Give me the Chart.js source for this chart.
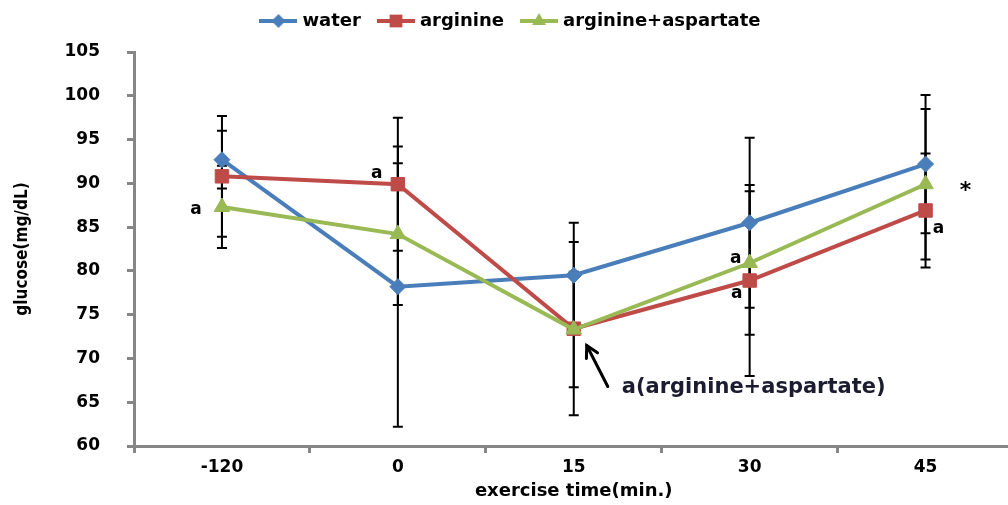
<!DOCTYPE html>
<html>
<head>
<meta charset="utf-8">
<script src="https://cdn.jsdelivr.net/npm/chart.js@4"></script>
<style>
  html, body { margin: 0; padding: 0; background: #fff; overflow: hidden; }
  canvas { display: block; }
</style>
</head>
<body>
<canvas id="chart" width="1024" height="505"></canvas>
<script>
const categories = ['-120', '0', '15', '30', '45']

const waterValues = [92.7, 78.2, 79.5, 85.5, 92.2]
const waterErrors = [3.3, 16.0, 6.0, 9.7, 7.9]
const arginineValues = [90.8, 89.9, 73.4, 78.9, 86.9]
const arginineErrors = [6.9, 7.6, 9.9, 10.9, 6.5]
const argAspValues = [87.3, 84.2, 73.3, 80.9, 89.9]
const argAspErrors = [4.7, 8.1, 6.6, 8.2, 8.6]

const yTicks = [60, 65, 70, 75, 80, 85, 90, 95, 100, 105]

// significance marks: series index, category index, text
const noteSeries = [2, 1, 2, 1, 1, 2]
const noteIndex = [0, 1, 3, 3, 4, 4]
const noteText = ['a', 'a', 'a', 'a', 'a', '*']
const arrowText = 'a(arginine+aspartate)'

const errors = [waterErrors, arginineErrors, argAspErrors]

const BLUE = '#4a7ebb'
const RED = '#be4b48'
const GREEN = '#98b954'
const AXIS = '#868686'

Chart.defaults.font.family = 'DejaVu Sans'
Chart.defaults.color = '#000'

function markerPath(ctx, style, x, y, r) {
  ctx.beginPath()
  if (style === 'rectRot') {
    ctx.moveTo(x - r, y); ctx.lineTo(x, y - r); ctx.lineTo(x + r, y); ctx.lineTo(x, y + r)
  } else if (style === 'rect') {
    const s = r * Math.SQRT1_2
    ctx.rect(x - s, y - s, 2 * s, 2 * s)
  } else {
    const h = r * 1.5
    ctx.moveTo(x, y - r); ctx.lineTo(x + h / Math.sqrt(3), y + r / 2); ctx.lineTo(x - h / Math.sqrt(3), y + r / 2)
  }
  ctx.closePath()
}

function legendIcon(color, style, r) {
  const c = document.createElement('canvas')
  c.width = 38
  c.height = 20
  const ctx = c.getContext('2d')
  ctx.strokeStyle = color
  ctx.lineWidth = 4
  ctx.beginPath(); ctx.moveTo(0, 10); ctx.lineTo(38, 10); ctx.stroke()
  ctx.fillStyle = color
  markerPath(ctx, style, 19, 10, r)
  ctx.fill()
  return c
}

const legendIcons = [
  legendIcon(BLUE, 'rectRot', 7),
  legendIcon(RED, 'rect', 9),
  legendIcon(GREEN, 'triangle', 8),
]

const errorBars = {
  id: 'errorBars',
  beforeDatasetsDraw(chart) {
    const { ctx, scales: { y } } = chart
    ctx.save()
    ctx.strokeStyle = '#000'
    ctx.lineWidth = 2
    chart.data.datasets.forEach((ds, i) => {
      chart.getDatasetMeta(i).data.forEach((pt, j) => {
        const e = errors[i][j]
        const top = y.getPixelForValue(ds.data[j] + e)
        const bot = y.getPixelForValue(ds.data[j] - e)
        ctx.beginPath()
        ctx.moveTo(pt.x, top); ctx.lineTo(pt.x, bot)
        ctx.moveTo(pt.x - 5, top); ctx.lineTo(pt.x + 5, top)
        ctx.moveTo(pt.x - 5, bot); ctx.lineTo(pt.x + 5, bot)
        ctx.stroke()
      })
    })
    ctx.restore()
  }
}

// lift the legend a little closer to the top edge
const legendShift = {
  id: 'legendShift',
  afterLayout(chart) {
    chart.legend.top -= 12
    chart.legend.bottom -= 12
  }
}

const notes = {
  id: 'notes',
  afterDatasetsDraw(chart) {
    const { ctx } = chart
    const offsets = [[-26, 3], [-21, -11], [-14, -4], [-13, 13], [13, 18], [40, 7]]
    ctx.save()
    ctx.textAlign = 'center'
    ctx.textBaseline = 'middle'
    ctx.fillStyle = '#000'
    noteText.forEach((t, k) => {
      const pt = chart.getDatasetMeta(noteSeries[k]).data[noteIndex[k]]
      ctx.font = t === '*' ? 'bold 22px DejaVu Sans' : 'bold 17px DejaVu Sans'
      ctx.fillText(t, pt.x + offsets[k][0], pt.y + offsets[k][1])
    })

    // arrow pointing at the 15 min arginine+aspartate point
    const p = chart.getDatasetMeta(2).data[2]
    const hx = p.x + 13, hy = p.y + 16
    const tx = p.x + 34, ty = p.y + 57
    const ang = Math.atan2(hy - ty, hx - tx)
    ctx.strokeStyle = '#000'
    ctx.lineWidth = 3
    ctx.lineCap = 'round'
    ctx.beginPath(); ctx.moveTo(tx, ty); ctx.lineTo(hx, hy); ctx.stroke()
    ctx.beginPath()
    ctx.moveTo(hx - 13 * Math.cos(ang - 0.5), hy - 13 * Math.sin(ang - 0.5))
    ctx.lineTo(hx, hy)
    ctx.lineTo(hx - 13 * Math.cos(ang + 0.5), hy - 13 * Math.sin(ang + 0.5))
    ctx.stroke()

    ctx.textAlign = 'left'
    ctx.fillStyle = '#1c1c30'
    ctx.font = 'bold 21px DejaVu Sans'
    ctx.fillText(arrowText, p.x + 48, p.y + 58)
    ctx.restore()
  }
}

function lineDataset(label, data, color, style, radius, order) {
  return {
    label,
    data,
    borderColor: color,
    backgroundColor: color,
    borderWidth: 4,
    pointStyle: style,
    pointRadius: radius,
    pointBorderWidth: 1,
    pointBackgroundColor: color,
    tension: 0,
    order,
  }
}

new Chart(document.getElementById('chart'), {
  type: 'line',
  data: {
    labels: categories,
    datasets: [
      lineDataset('water', waterValues, BLUE, 'rectRot', 8, 2),
      lineDataset('arginine', arginineValues, RED, 'rect', 9.5, 1),
      lineDataset('arginine+aspartate', argAspValues, GREEN, 'triangle', 9, 0),
    ]
  },
  options: {
    responsive: false,
    animation: false,
    devicePixelRatio: 1,
    layout: { padding: { top: 4, right: 0, left: 0, bottom: 0 } },
    plugins: {
      tooltip: { enabled: false },
      legend: {
        position: 'top',
        align: 'center',
        labels: {
          usePointStyle: true,
          pointStyleWidth: 30,
          boxHeight: 18,
          padding: 20,
          color: '#000',
          font: { size: 18, weight: 'bold' },
          sort: (a, b) => a.datasetIndex - b.datasetIndex,
          generateLabels(chart) {
            const items = Chart.defaults.plugins.legend.labels.generateLabels(chart)
            items.forEach(item => { item.pointStyle = legendIcons[item.datasetIndex] })
            return items
          }
        }
      }
    },
    scales: {
      x: {
        offset: true,
        grid: { offset: true, drawOnChartArea: false, drawTicks: true, tickLength: 7, tickColor: AXIS, tickWidth: 3 },
        border: { color: AXIS, width: 3 },
        ticks: { padding: 4, font: { size: 17, weight: 'bold' }, color: '#000' },
        title: {
          display: true,
          text: 'exercise time(min.)',
          font: { size: 18, weight: 'bold' },
          padding: { top: 0, bottom: 3 },
          color: '#000'
        },
        afterFit(scale) { scale.height = 59 }
      },
      y: {
        min: 60,
        max: 105,
        afterBuildTicks(scale) { scale.ticks = yTicks.map(v => ({ value: v })) },
        grid: { drawOnChartArea: false, drawTicks: true, tickLength: 7, tickColor: AXIS, tickWidth: 3 },
        border: { color: AXIS, width: 3 },
        ticks: { padding: 27, font: { size: 17, weight: 'bold' }, color: '#000' },
        title: {
          display: true,
          text: 'glucose(mg/dL)',
          font: { family: 'DejaVu Sans Condensed', size: 17, weight: 'bold' },
          padding: { top: 12, bottom: 0 },
          color: '#000'
        },
        afterFit(scale) { scale.width = 134 }
      }
    }
  },
  plugins: [errorBars, notes, legendShift]
})
</script>
</body>
</html>
